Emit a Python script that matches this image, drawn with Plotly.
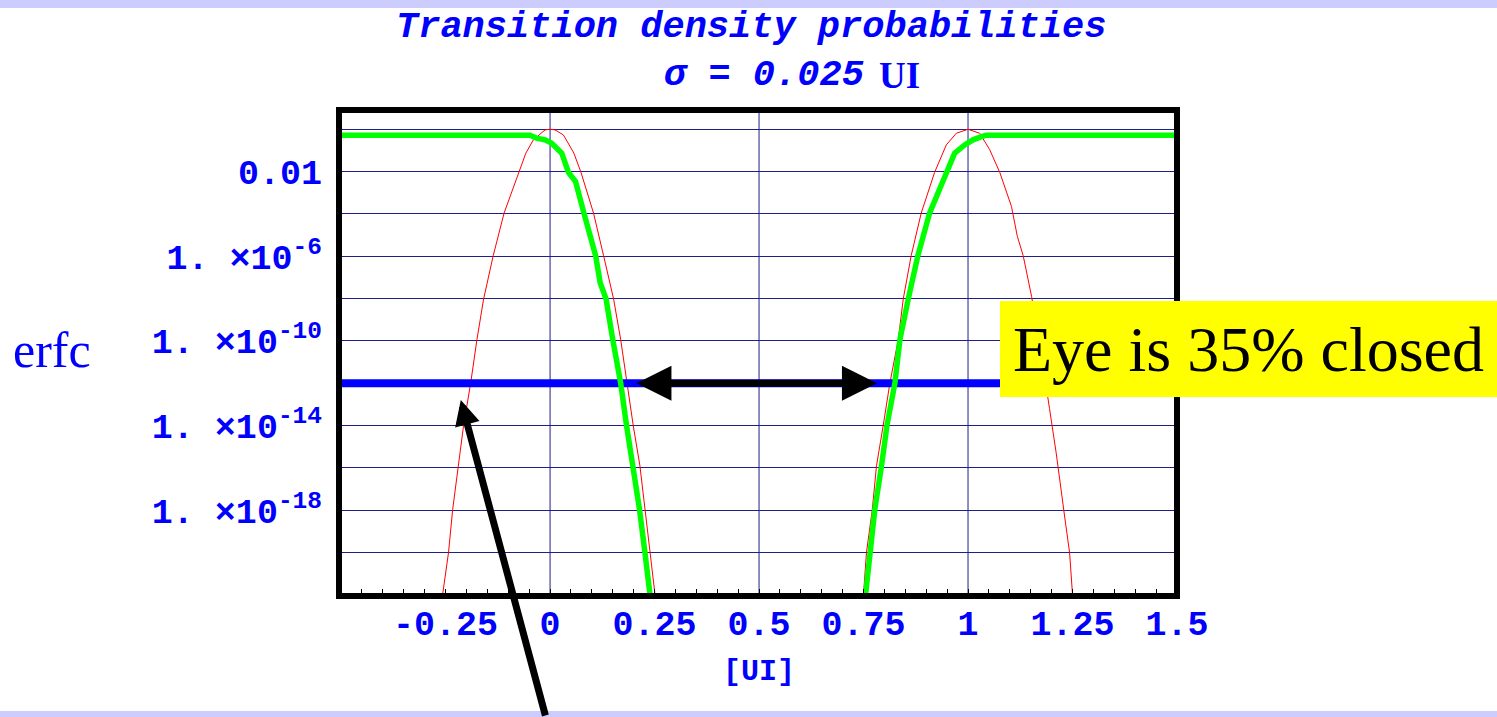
import plotly.graph_objects as go

# ---- data (x in UI, levels as log10 exponents) ----
# Gaussian transition densities centred on 0 UI and 1 UI
red_left_x = [-0.257, -0.243, -0.233, -0.219, -0.207, -0.190, -0.175, -0.159, -0.136, -0.110,
              -0.075, -0.058, -0.040, -0.012, 0.0, 0.012, 0.032, 0.057, 0.074, 0.104,
              0.128, 0.152, 0.169, 0.184, 0.199, 0.215, 0.227, 0.239, 0.251]
red_left_exp = [-21.97, -20.0, -17.96, -15.9, -14.0, -12.0, -9.94, -8.02, -5.97, -3.96,
                -2.04, -1.13, -0.5, -0.03, 0.0, -0.03, -0.27, -1.13, -2.04, -3.96,
                -5.97, -8.02, -9.94, -12.0, -14.0, -15.9, -17.96, -20.0, -21.97]

red_right_x = [0.750, 0.757, 0.771, 0.781, 0.797, 0.813, 0.833, 0.845, 0.864, 0.888,
               0.920, 0.948, 0.972, 1.0, 1.028, 1.052, 1.076, 1.104, 1.118, 1.132,
               1.152, 1.175, 1.195, 1.211, 1.231, 1.243, 1.250]
red_right_exp = [-21.97, -20.0, -17.96, -15.9, -14.0, -12.0, -9.94, -8.02, -5.97, -3.96,
                 -2.04, -0.74, -0.19, 0.0, -0.19, -0.97, -2.04, -3.65, -5.06, -5.97,
                 -7.89, -10.6, -13.2, -15.3, -18.27, -20.0, -21.97]

# erfc (bathtub) curve, left and right walls
green_left_x = [-0.505, -0.048, -0.032, -0.012, 0.004, 0.028, 0.044, 0.061, 0.081, 0.109,
                0.120, 0.134, 0.150, 0.169, 0.183, 0.199, 0.214, 0.227, 0.239]
green_left_exp = [-0.28, -0.28, -0.42, -0.50, -0.66, -1.13, -2.04, -2.47, -3.96, -5.97,
                  -7.26, -8.02, -9.94, -12.0, -14.0, -15.9, -17.96, -20.0, -21.97]

green_right_x = [0.755, 0.766, 0.777, 0.793, 0.806, 0.825, 0.837, 0.857, 0.880, 0.908,
                 0.948, 0.968, 0.992, 1.012, 1.032, 1.044, 1.5]
green_right_exp = [-21.97, -20.0, -17.96, -15.9, -14.0, -12.0, -9.94, -8.02, -5.97, -3.96,
                   -2.04, -1.13, -0.74, -0.50, -0.35, -0.28, -0.28]

ber_level = 1e-12

# ---- axes ----
x_span = [-0.505, 1.5]
y_span_exp = [-22.05, 0.91]
x_tick_vals = [-0.25, 0, 0.25, 0.5, 0.75, 1, 1.25, 1.5]
x_tick_text = ["-0.25", "0", "0.25", "0.5", "0.75", "1", "1.25", "1.5"]
x_grid_vals = [0, 0.5, 1]
y_grid_exps = [0, -2, -4, -6, -8, -10, -12, -14, -16, -18, -20]
y_labels = {-2: "0.01", -6: "1. \u00d710<sup>-6</sup>", -10: "1. \u00d710<sup>-10</sup>",
            -14: "1. \u00d710<sup>-14</sup>", -18: "1. \u00d710<sup>-18</sup>"}

MONO = "Liberation Mono"
SERIF = "Liberation Serif"
BLUE = "#0000FF"
GRID = "#1f1f88"


def lin(exps):
    return [10 ** e for e in exps]


fig = go.Figure()

fig.add_trace(go.Scatter(x=red_left_x, y=lin(red_left_exp), mode="lines",
                         line=dict(color="#FF0000", width=1)))
fig.add_trace(go.Scatter(x=red_right_x, y=lin(red_right_exp), mode="lines",
                         line=dict(color="#FF0000", width=1)))
fig.add_trace(go.Scatter(x=x_span, y=[ber_level, ber_level], mode="lines",
                         line=dict(color="#0000FF", width=8)))
fig.add_trace(go.Scatter(x=green_left_x, y=lin(green_left_exp), mode="lines",
                         line=dict(color="#00FF00", width=5.5)))
fig.add_trace(go.Scatter(x=green_right_x, y=lin(green_right_exp), mode="lines",
                         line=dict(color="#00FF00", width=5.5)))

shapes = []
# page bands
shapes.append(dict(type="rect", xref="paper", yref="paper", x0=-0.5, x1=1.5,
                   y0=1.2099, y1=1.30, fillcolor="#CCCCFF", line=dict(width=0), layer="below"))
shapes.append(dict(type="rect", xref="paper", yref="paper", x0=-0.5, x1=1.5,
                   y0=-0.30, y1=-0.2366, fillcolor="#CCCCFF", line=dict(width=0), layer="below"))
# vertical grid lines
for gx in x_grid_vals:
    shapes.append(dict(type="line", xref="x", yref="paper", x0=gx, x1=gx, y0=0, y1=1,
                       line=dict(color=GRID, width=1), layer="below"))
# frame
shapes.append(dict(type="rect", xref="paper", yref="paper", x0=0, x1=1, y0=0, y1=1,
                   line=dict(color="black", width=6), layer="above"))

annotations = [
    dict(text="<b><i>Transition density probabilities</i></b>", xref="paper", yref="paper",
         x=0.4925, y=1.1708, xanchor="center", yanchor="middle", showarrow=False,
         font=dict(family=MONO, size=37, color=BLUE)),
    dict(text="<b><i>\u03c3</i> = <i>0.025</i></b>", xref="paper", yref="paper",
         x=0.3854, y=1.072, xanchor="left", yanchor="middle", showarrow=False,
         font=dict(family=MONO, size=37, color=BLUE)),
    dict(text="<b>UI</b>", xref="paper", yref="paper",
         x=0.642, y=1.072, xanchor="left", yanchor="middle", showarrow=False,
         font=dict(family=SERIF, size=37, color=BLUE)),
    dict(text="<b>[UI]</b>", xref="paper", yref="paper",
         x=0.5012, y=-0.1564, xanchor="center", yanchor="middle", showarrow=False,
         font=dict(family=MONO, size=30, color=BLUE)),
    dict(text="erfc", xref="paper", yref="paper",
         x=-0.391, y=0.506, xanchor="left", yanchor="middle", showarrow=False,
         font=dict(family=SERIF, size=50, color=BLUE)),
    # eye opening at the BER level
    dict(text="", xref="x", yref="y", x=0.782, y=-12, axref="x", ayref="y", ax=0.203, ay=-12,
         showarrow=True, arrowhead=2, startarrowhead=2, arrowside="end+start",
         arrowwidth=7, arrowsize=1, startarrowsize=1, arrowcolor="black",
         standoff=0, startstandoff=0),
    # pointer to the density at the BER level
    dict(text="", xref="x", yref="y", x=-0.2136, y=-12.79, axref="pixel", ayref="pixel",
         ax=85, ay=317, showarrow=True, arrowhead=2, arrowwidth=7, arrowsize=0.72,
         arrowcolor="black", standoff=0),
    dict(text="Eye is 35% closed", xref="paper", yref="paper", x=1.0853, y=0.5082,
         xanchor="center", yanchor="middle", showarrow=False, width=497, height=96,
         bgcolor="#FFFF00", borderpad=0, borderwidth=0,
         font=dict(family=SERIF, size=64, color="black")),
]

fig.update_layout(
    width=1497, height=717,
    margin=dict(l=339, r=320, t=110, b=121),
    paper_bgcolor="white", plot_bgcolor="white",
    showlegend=False,
    shapes=shapes, annotations=annotations,
    xaxis=dict(range=x_span, tickmode="array", tickvals=x_tick_vals, ticktext=x_tick_text,
               showgrid=False, zeroline=False, showline=False,
               ticks="inside", ticklen=7, tickcolor="black", tickwidth=1,
               minor=dict(tickmode="linear", tick0=0, dtick=0.05, ticks="inside",
                          ticklen=7, tickcolor="black", tickwidth=1, showgrid=False),
               tickfont=dict(family=MONO, size=35, color=BLUE, weight="bold"),
               ticklabelstandoff=3),
    yaxis=dict(type="log", range=y_span_exp, tickmode="array",
               tickvals=[10 ** e for e in y_grid_exps],
               ticktext=[y_labels.get(e, "") for e in y_grid_exps],
               showgrid=True, gridcolor=GRID, gridwidth=1, zeroline=False, showline=False,
               ticks="", tickfont=dict(family=MONO, size=35, color=BLUE, weight="bold"),
               ticklabelstandoff=16),
)

fig.write_html("out.html")
